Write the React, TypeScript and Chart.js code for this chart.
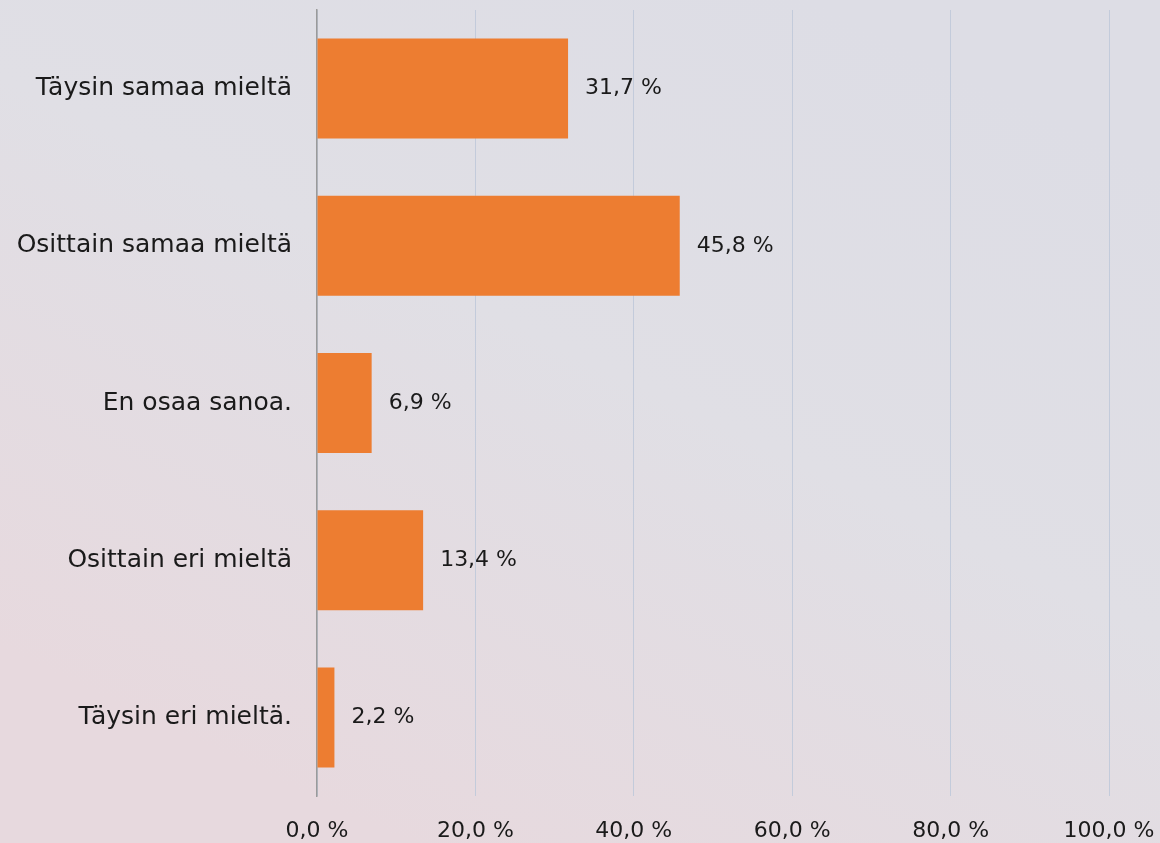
import React, { useEffect, useRef } from "react";
import { Chart, registerables } from "chart.js";

Chart.register(...registerables);

const categories = [
  "Täysin samaa mieltä",
  "Osittain samaa mieltä",
  "En osaa sanoa.",
  "Osittain eri mieltä",
  "Täysin eri mieltä.",
];
const values = [31.7, 45.8, 6.9, 13.4, 2.2];
const tickValues = [0, 20, 40, 60, 80, 100];

const FONT = "'DejaVu Sans', sans-serif";
const FSIZE = 22;
const CAT_FSIZE = 25;
const fmt = (v: number) => v.toFixed(1).replace(".", ",") + " %";

const bgPlugin = {
  id: "bg",
  beforeDraw(chart: any) {
    const { ctx, width, height } = chart;
    ctx.save();
    const g = ctx.createLinearGradient(width * 0.7, 0, width * 0.35, height);
    g.addColorStop(0, "#dddde5");
    g.addColorStop(0.45, "#e0dfe5");
    g.addColorStop(1, "#e7d9de");
    ctx.fillStyle = g;
    ctx.fillRect(0, 0, width, height);
    ctx.restore();
  },
};

const labelPlugin = {
  id: "vlabels",
  afterDatasetsDraw(chart: any) {
    const { ctx } = chart;
    const meta = chart.getDatasetMeta(0);
    ctx.save();
    ctx.font = `${FSIZE}px ${FONT}`;
    ctx.fillStyle = "#1a1a1a";
    ctx.textAlign = "left";
    ctx.textBaseline = "middle";
    meta.data.forEach((el: any, i: number) => {
      ctx.fillText(fmt(values[i]), el.x + 17, el.y);
    });
    ctx.restore();
  },
};

export default function App() {
  const ref = useRef<HTMLCanvasElement>(null);
  useEffect(() => {
    if (!ref.current) return;
    const chart = new Chart(ref.current, {
      type: "bar",
      data: {
        labels: categories,
        datasets: [
          {
            data: values,
            backgroundColor: "#ED7D31",
            barPercentage: 0.636,
            categoryPercentage: 1,
          },
        ],
      },
      options: {
        indexAxis: "y",
        animation: false,
        responsive: false,
        devicePixelRatio: 1,
        layout: { padding: { top: 10, right: 51, left: 0, bottom: 0 } },
        plugins: { legend: { display: false }, tooltip: { enabled: false } },
        scales: {
          x: {
            min: 0,
            max: 100,
            afterBuildTicks: (s: any) => {
              s.ticks = tickValues.map((v) => ({ value: v }));
            },
            afterFit: (s: any) => {
              s.height = 47;
              s.paddingLeft = 0;
              s.paddingRight = 0;
            },
            grid: {
              color: "#c3cbdb",
              lineWidth: 1,
              drawTicks: false,
            },
            border: { display: false },
            ticks: {
              padding: 22,
              maxRotation: 0,
              color: "#1a1a1a",
              font: { family: FONT, size: FSIZE },
              callback: (v: any) => fmt(Number(v)),
            },
          },
          y: {
            afterFit: (s: any) => {
              s.width = 317;
              s.paddingTop = 0;
              s.paddingBottom = 0;
            },
            grid: { display: false, drawTicks: false },
            border: { display: true, color: "#9a9a9a", width: 1.5 },
            ticks: {
              padding: 25,
              color: "#1a1a1a",
              font: { family: FONT, size: CAT_FSIZE },
            },
          },
        },
      },
      plugins: [bgPlugin, labelPlugin],
    });
    return () => chart.destroy();
  }, []);
  return (
    <div style={{ position: "absolute", left: 0, top: 0, width: 1160, height: 843 }}>
      <canvas ref={ref} width={1160} height={843} style={{ display: "block" }} />
    </div>
  );
}
